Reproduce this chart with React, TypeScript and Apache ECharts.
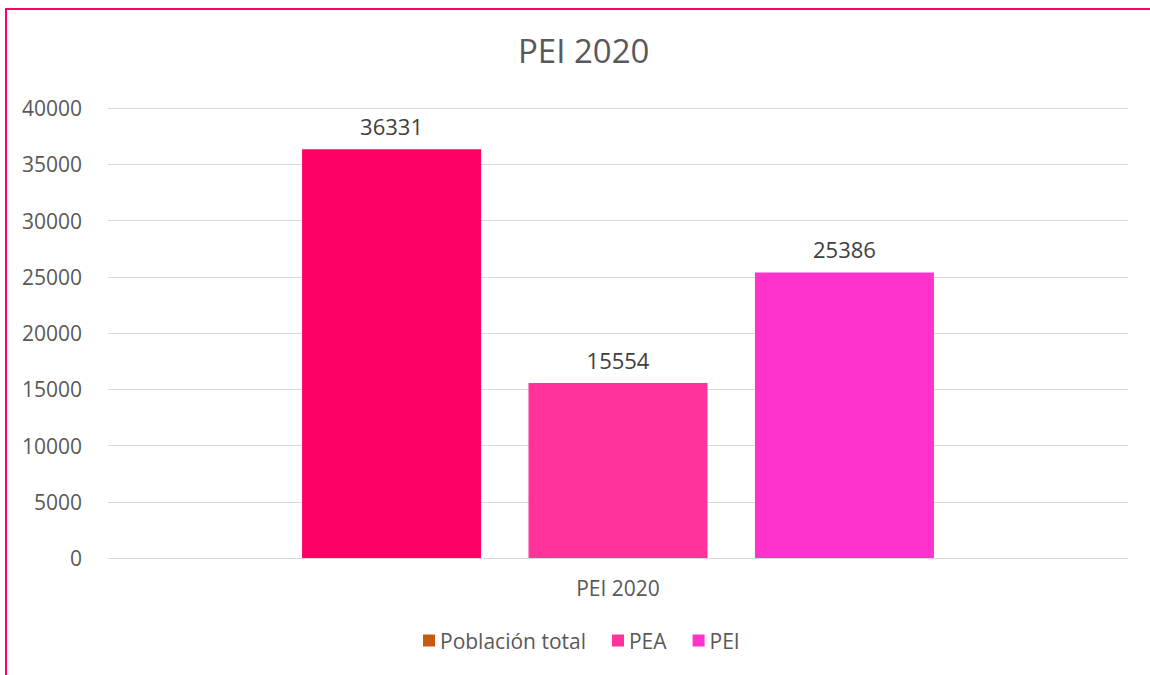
import React, { useEffect, useRef } from "react";
import * as echarts from "echarts";

const categories = ["PEI 2020"];
const seriesNames = ["Población total", "PEA", "PEI"];
const seriesValues = [[36331], [15554], [25386]];
const barColors = ["#FF0066", "#FF3399", "#FF33CC"];
const legendColors = ["#C55A11", "#FF3399", "#FF33CC"];
const yTicks = { min: 0, max: 40000, interval: 5000 };

const FONT = "'Open Sans', sans-serif";

export default function App() {
  const ref = useRef<HTMLDivElement>(null);
  useEffect(() => {
    if (!ref.current) return;
    const chart = echarts.init(ref.current, undefined, { renderer: "svg" });
    chart.setOption({
      animation: false,
      textStyle: { fontFamily: FONT },
      title: {
        text: "PEI 2020",
        left: 513,
        top: 29,
        textStyle: { fontFamily: FONT, fontSize: 33, fontWeight: "normal", color: "#595959" },
      },
      graphic: [
        {
          type: "rect",
          shape: { x: 6, y: 9, width: 1170, height: 700 },
          style: { fill: "none", stroke: "#FF0066", lineWidth: 2 },
          silent: true,
        },
      ],
      legend: {
        bottom: 19,
        left: 418,
        itemWidth: 12,
        itemHeight: 12,
        itemGap: 26,
        itemTextGap: 8,
        icon: "rect",
        textStyle: { fontFamily: FONT, fontSize: 21, color: "#595959" },
        data: seriesNames.map((n, i) => ({ name: n, itemStyle: { color: legendColors[i] } })),
      },
      grid: { left: 108, right: 22, top: 108, bottom: 117, containLabel: false },
      xAxis: {
        type: "category",
        data: categories,
        axisLine: { lineStyle: { color: "#D9D9D9", width: 1 } },
        axisTick: { show: false },
        axisLabel: { fontFamily: FONT, fontSize: 21, color: "#595959", margin: 19 },
      },
      yAxis: {
        type: "value",
        min: yTicks.min,
        max: yTicks.max,
        interval: yTicks.interval,
        axisLine: { show: false },
        axisTick: { show: false },
        splitLine: { lineStyle: { color: "#D9D9D9", width: 1 } },
        axisLabel: {
          fontFamily: FONT,
          fontSize: 21,
          color: "#595959",
          margin: 26,
          formatter: (v: number) => String(v),
        },
      },
      series: seriesNames.map((n, i) => ({
        name: n,
        type: "bar",
        data: seriesValues[i],
        barWidth: 179,
        barGap: "26.5%",
        itemStyle: { color: barColors[i] },
        label: {
          show: true,
          position: "top",
          distance: 12,
          fontFamily: FONT,
          fontSize: 22,
          color: "#404040",
        },
      })),
    });
    return () => chart.dispose();
  }, []);
  return (
    <div
      ref={ref}
      style={{ position: "fixed", left: 0, top: 0, width: 1150, height: 675, background: "#fff" }}
    />
  );
}
